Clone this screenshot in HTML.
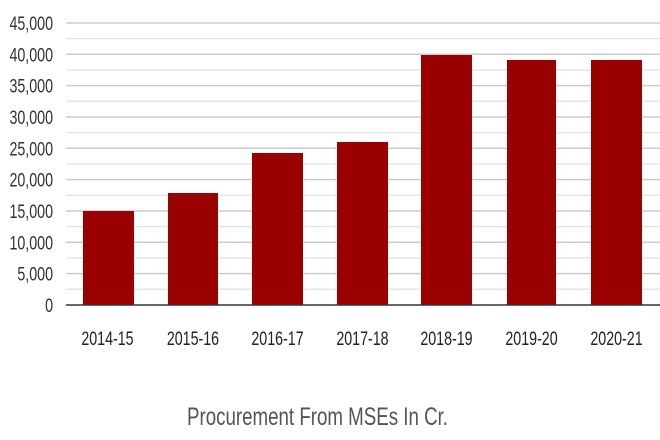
<!DOCTYPE html>
<html><head><style>
html,body{margin:0;padding:0;background:#fff;width:660px;height:440px;overflow:hidden}
text{font-family:"Liberation Sans",sans-serif}
</style></head><body>
<svg width="660" height="440" xmlns="http://www.w3.org/2000/svg">
<g stroke="#e6e6e6" stroke-width="1.5">
<line x1="66" x2="660" y1="38.6" y2="38.6"/><line x1="66" x2="660" y1="70" y2="70"/><line x1="66" x2="660" y1="101.3" y2="101.3"/><line x1="66" x2="660" y1="132.6" y2="132.6"/><line x1="66" x2="660" y1="164" y2="164"/><line x1="66" x2="660" y1="195.3" y2="195.3"/><line x1="66" x2="660" y1="226.6" y2="226.6"/><line x1="66" x2="660" y1="258" y2="258"/><line x1="66" x2="660" y1="289.3" y2="289.3"/>
</g>
<g stroke="#cccccc" stroke-width="1.5">
<line x1="66" x2="660" y1="23" y2="23"/><line x1="66" x2="660" y1="54.3" y2="54.3"/><line x1="66" x2="660" y1="85.6" y2="85.6"/><line x1="66" x2="660" y1="117" y2="117"/><line x1="66" x2="660" y1="148.3" y2="148.3"/><line x1="66" x2="660" y1="179.6" y2="179.6"/><line x1="66" x2="660" y1="211" y2="211"/><line x1="66" x2="660" y1="242.3" y2="242.3"/><line x1="66" x2="660" y1="273.6" y2="273.6"/>
</g>
<g fill="#9b0000">
<rect x="83" y="211" width="51" height="94"/>
<rect x="168" y="193" width="50" height="112"/>
<rect x="252" y="153" width="51" height="152"/>
<rect x="337" y="142" width="51" height="163"/>
<rect x="421" y="55" width="51" height="250"/>
<rect x="507" y="60" width="49" height="245"/>
<rect x="591" y="60" width="51" height="245"/>
</g>
<line x1="66" x2="660" y1="305" y2="305" stroke="#333" stroke-width="1.5"/>
<g fill="#333" font-size="19" text-anchor="end" transform="scale(0.75,1)">
<text x="70.7" y="30">45,000</text><text x="70.7" y="61.3">40,000</text><text x="70.7" y="92.6">35,000</text><text x="70.7" y="124">30,000</text><text x="70.7" y="155.3">25,000</text><text x="70.7" y="186.6">20,000</text><text x="70.7" y="218">15,000</text><text x="70.7" y="249.3">10,000</text><text x="70.7" y="280.6">5,000</text><text x="70.7" y="312">0</text>
</g>
<g fill="#222" font-size="19" text-anchor="middle" transform="scale(0.75,1)">
<text x="143.3" y="345">2014-15</text><text x="257.3" y="345">2015-16</text><text x="370" y="345">2016-17</text><text x="483.3" y="345">2017-18</text><text x="595.3" y="345">2018-19</text><text x="708.7" y="345">2019-20</text><text x="822" y="345">2020-21</text>
</g>
<text x="317.5" y="425" font-size="25" fill="#555" text-anchor="middle" textLength="261" lengthAdjust="spacingAndGlyphs">Procurement From MSEs In Cr.</text>
</svg>
</body></html>
